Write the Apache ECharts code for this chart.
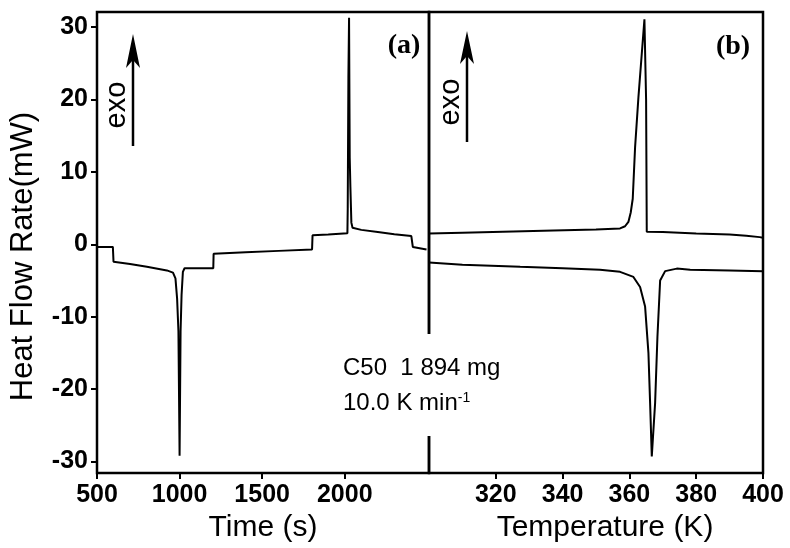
<!DOCTYPE html>
<html>
<head>
<meta charset="utf-8">
<script src="https://cdn.jsdelivr.net/npm/echarts@6/dist/echarts.min.js"></script>
<style>html,body{margin:0;padding:0;background:#fff;}#c{width:790px;height:548px;}</style>
</head>
<body>
<div id="c"></div>
<script>
// (a) heat flow vs time
var timeS = [500, 596, 600, 700, 802, 923, 960, 975, 985, 993, 1000, 1006, 1012, 1020, 1030, 1100, 1204, 1206, 1400, 1600, 1802, 1805, 1900, 2016, 2018, 2022, 2026, 2030, 2034, 2040, 2047, 2100, 2200, 2300, 2403, 2412, 2495];
var heatFlowA = [-0.35, -0.35, -2.4, -2.7, -3.1, -3.6, -3.9, -4.7, -7.5, -12, -29.2, -12, -7, -3.8, -3.3, -3.3, -3.3, -1.3, -1.1, -0.9, -0.7, 1.25, 1.35, 1.55, 5, 23, 31.3, 12, 8, 3, 2.3, 2.0, 1.7, 1.4, 1.15, -0.35, -0.7];
// (b) cooling trace vs temperature (exothermic peak)
var coolT = [300, 310, 337.3, 350, 357.2, 358.7, 359.7, 360.4, 361, 361.7, 362.7, 364.5, 365.0, 365.2, 370, 380, 390, 395, 399, 400];
var coolHF = [1.5, 1.6, 1.9, 2.05, 2.2, 2.5, 3.1, 4.4, 6.3, 13.4, 20.3, 31.1, 20, 1.75, 1.7, 1.5, 1.35, 1.2, 1.0, 0.9];
// (b) heating trace vs temperature (endothermic peak)
var heatT = [300, 310, 327.3, 340, 351.2, 357.2, 361.2, 363.2, 364.7, 365.7, 366.2, 366.7, 367.7, 368.4, 369.2, 370.7, 374.2, 378.2, 390, 400];
var heatHF = [-2.5, -2.8, -3.1, -3.3, -3.5, -3.8, -4.5, -5.9, -8.6, -15, -21.9, -29.3, -21.9, -12.7, -5.0, -3.7, -3.35, -3.5, -3.6, -3.7];
// ticks
var yTicks = [-30, -20, -10, 0, 10, 20, 30];
var timeTicks = [500, 1000, 1500, 2000];
var tempTicks = [320, 340, 360, 380, 400];

function zip(a, b) { return a.map(function (v, i) { return [v, b[i]]; }); }
function plain(v) { return String(v); }

var FONT = 'Liberation Sans, Arial, sans-serif';
var chart = echarts.init(document.getElementById('c'), null, { renderer: 'canvas' });
var tickLabel = { color: '#000', fontSize: 25, fontWeight: 'bold', fontFamily: FONT, formatter: plain };
var lineSt = { color: '#000', width: 2 };
var tickSt = { show: true, length: 6, lineStyle: { color: '#000', width: 2 } };

var option = {
  animation: false,
  backgroundColor: '#fff',
  grid: [
    { left: 97, right: 361, top: 12, bottom: 73, show: true, borderColor: '#000', borderWidth: 2.5, backgroundColor: 'transparent' },
    { left: 429, right: 27, top: 12, bottom: 73, show: true, borderColor: '#000', borderWidth: 2.5, backgroundColor: 'transparent' }
  ],
  xAxis: [
    {
      type: 'value', gridIndex: 0, min: 500, max: 2510, position: 'bottom',
      name: 'Time (s)', nameLocation: 'middle', nameGap: 36,
      nameTextStyle: { color: '#000', fontSize: 30, fontFamily: FONT },
      axisLine: { show: false, onZero: false },
      axisTick: Object.assign({ customValues: timeTicks }, tickSt),
      axisLabel: Object.assign({ margin: 10, customValues: timeTicks }, tickLabel),
      splitLine: { show: false }
    },
    {
      type: 'value', gridIndex: 1, min: 300, max: 400, position: 'bottom',
      name: 'Temperature (K)', nameLocation: 'middle', nameGap: 36,
      nameTextStyle: { color: '#000', fontSize: 30, fontFamily: FONT, padding: [0, 0, 0, 18] },
      axisLine: { show: false, onZero: false },
      axisTick: Object.assign({ customValues: tempTicks }, tickSt),
      axisLabel: Object.assign({ margin: 10, customValues: tempTicks }, tickLabel),
      splitLine: { show: false }
    }
  ],
  yAxis: [
    {
      type: 'value', gridIndex: 0, min: -31.6, max: 32.1, position: 'left',
      name: 'Heat Flow Rate(mW)', nameLocation: 'middle', nameGap: 58,
      nameTextStyle: { color: '#000', fontSize: 31, fontFamily: FONT, padding: [0, 28, 0, 0] },
      axisLine: { show: false, onZero: false },
      axisTick: Object.assign({ customValues: yTicks }, tickSt),
      axisLabel: Object.assign({ margin: 9, customValues: yTicks }, tickLabel),
      splitLine: { show: false }
    },
    {
      type: 'value', gridIndex: 1, min: -31.6, max: 32.1,
      axisLine: { show: false, onZero: false }, axisTick: { show: false }, axisLabel: { show: false }, splitLine: { show: false }
    }
  ],
  series: [
    { type: 'line', xAxisIndex: 0, yAxisIndex: 0, data: zip(timeS, heatFlowA), symbol: 'none', lineStyle: lineSt },
    { type: 'line', xAxisIndex: 1, yAxisIndex: 1, data: zip(coolT, coolHF), symbol: 'none', lineStyle: lineSt },
    { type: 'line', xAxisIndex: 1, yAxisIndex: 1, data: zip(heatT, heatHF), symbol: 'none', lineStyle: lineSt }
  ],
  graphic: [
    { type: 'rect', z: 100, shape: { x: 338, y: 334, width: 185, height: 102 }, style: { fill: '#fff' } },
    { type: 'text', z: 101, x: 343, y: 368, style: { text: 'C50  1 894 mg', font: '24px ' + FONT, fill: '#000', verticalAlign: 'middle', align: 'left' } },
    { type: 'text', z: 101, x: 343, y: 403, style: {
        text: '10.0 K min{sup|-1}', font: '24px ' + FONT, fill: '#000', verticalAlign: 'middle', align: 'left',
        rich: { sup: { fontSize: 14, fontFamily: FONT, fill: '#000', verticalAlign: 'top', padding: [0, 0, 10, 0] } }
    } },
    { type: 'text', z: 101, x: 404, y: 46, style: { text: '(a)', font: 'bold 28px Liberation Serif, serif', fill: '#000', align: 'center', verticalAlign: 'middle' } },
    { type: 'text', z: 101, x: 733, y: 47, style: { text: '(b)', font: 'bold 28px Liberation Serif, serif', fill: '#000', align: 'center', verticalAlign: 'middle' } },
    { type: 'text', z: 101, x: 117, y: 105, rotation: Math.PI / 2, style: { text: 'exo', font: '29px ' + FONT, fill: '#000', align: 'center', verticalAlign: 'middle' } },
    { type: 'text', z: 101, x: 451, y: 102, rotation: Math.PI / 2, style: { text: 'exo', font: '29px ' + FONT, fill: '#000', align: 'center', verticalAlign: 'middle' } },
    { type: 'line', z: 101, shape: { x1: 133, y1: 146, x2: 133, y2: 55 }, style: { stroke: '#000', lineWidth: 2.5 } },
    { type: 'polygon', z: 101, shape: { points: [[133, 34], [126, 68], [133, 60], [140, 68]] }, style: { fill: '#000' } },
    { type: 'line', z: 101, shape: { x1: 467, y1: 142, x2: 467, y2: 52 }, style: { stroke: '#000', lineWidth: 2.5 } },
    { type: 'polygon', z: 101, shape: { points: [[467, 31], [460, 64], [467, 56], [474, 64]] }, style: { fill: '#000' } }
  ]
};
chart.setOption(option);
</script>
</body>
</html>
